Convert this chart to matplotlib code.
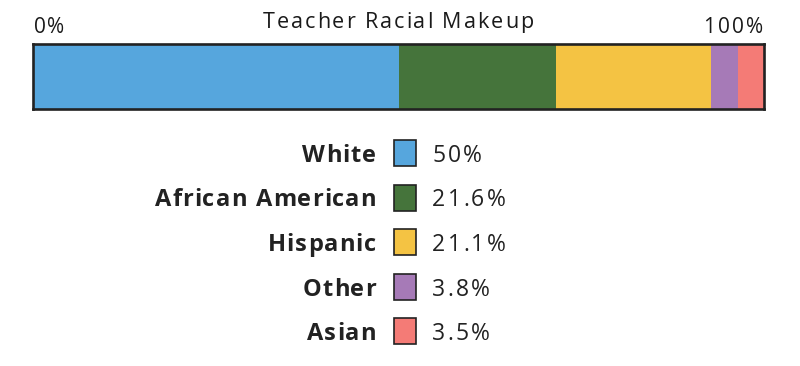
import matplotlib
matplotlib.use("Agg")
import matplotlib.pyplot as plt
from matplotlib.patches import Rectangle
from matplotlib.font_manager import FontProperties

categories = ["White", "African American", "Hispanic", "Other", "Asian"]
values = [50, 21.6, 21.1, 3.8, 3.5]
value_labels = ["50%", "21.6%", "21.1%", "3.8%", "3.5%"]
colors = ["#56a6dd", "#45743b", "#f4c343", "#a67ab7", "#f47b76"]
title = "Teacher Racial Makeup"

W, H = 800, 366
FONT = ["Open Sans", "DejaVu Sans"]
plt.rcParams["font.family"] = FONT
fig = plt.figure(figsize=(W / 100, H / 100), dpi=100)


def px(x, y):
    # pixel coords from top-left -> figure fraction
    return x / W, 1 - y / H


def spaced(x, y, s, size, spacing=0.0, weight="normal", ha="left", color="#222222"):
    """Draw text with extra letter spacing (pixels), baseline at y."""
    r = fig.canvas.get_renderer()
    prop = FontProperties(family=FONT, size=size, weight=weight)
    widths = []
    for ch in s:
        w, h, d = r.get_text_width_height_descent(ch if ch != " " else "n", prop, ismath=False)
        if ch == " ":
            w *= 0.45
        widths.append(w)
    total = sum(widths) + spacing * (len(s) - 1)
    if ha == "right":
        x0 = x - total
    elif ha == "center":
        x0 = x - total / 2
    else:
        x0 = x
    for ch, w in zip(s, widths):
        fx, fy = px(x0, y)
        fig.text(fx, fy, ch, fontproperties=prop, color=color, ha="left", va="baseline")
        x0 += w + spacing


# stacked bar
ax = fig.add_axes([33 / W, 1 - 109 / H, 731 / W, 65 / H])
left = 0
for v, c in zip(values, colors):
    ax.barh(0, v, left=left, height=1, color=c, edgecolor="none")
    left += v
ax.set_xlim(0, 100)
ax.set_ylim(-0.5, 0.5)
ax.set_xticks([])
ax.set_yticks([])
for sp in ax.spines.values():
    sp.set_linewidth(1.9)
    sp.set_color("#222222")

spaced(398, 28, title, 15.5, spacing=1.9, ha="center", color="#1a1a1a")
spaced(34, 33, "0%", 15, spacing=1.0, color="#1a1a1a")
spaced(763, 33, "100%", 15, spacing=2.2, ha="right", color="#1a1a1a")

# legend
for i, (cat, lab, c) in enumerate(zip(categories, value_labels, colors)):
    cy = 153 + 44.5 * i
    fx, fy = px(394, cy + 13)
    fig.patches.append(Rectangle((fx, fy), 22 / W, 26 / H, transform=fig.transFigure,
                                 facecolor=c, edgecolor="#222222", linewidth=1.2))
    spaced(376, cy + 9, cat, 17, spacing=1.0, weight="bold", ha="right")
    spaced(432, cy + 9, lab, 16.5, spacing=2.4)

fig.savefig("out.png", dpi=100)
